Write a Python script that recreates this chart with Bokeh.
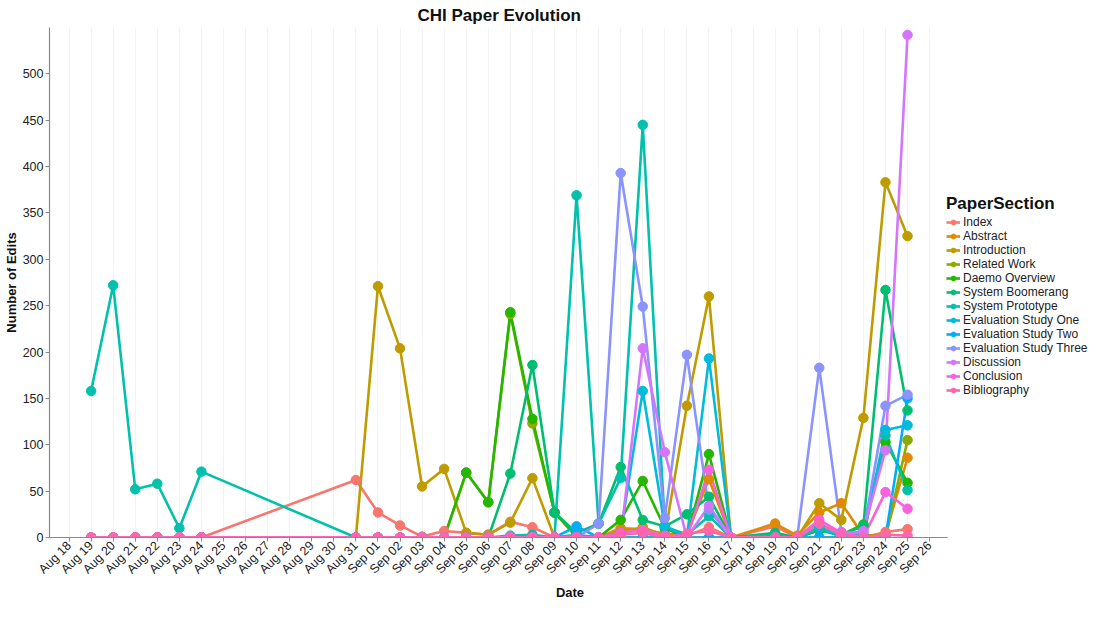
import math
import pandas as pd
from bokeh.plotting import figure
from bokeh.models import (Range1d, FixedTicker, DatetimeTickFormatter, Legend,
                          LegendItem, ColumnDataSource)
from bokeh.embed import file_html
from bokeh.resources import INLINE

# ---------------- data ----------------
dates = ["2015-08-19", "2015-08-20", "2015-08-21", "2015-08-22", "2015-08-23",
         "2015-08-24", "2015-08-31", "2015-09-01", "2015-09-02", "2015-09-03",
         "2015-09-04", "2015-09-05", "2015-09-06", "2015-09-07", "2015-09-08",
         "2015-09-09", "2015-09-10", "2015-09-11", "2015-09-12", "2015-09-13",
         "2015-09-14", "2015-09-15", "2015-09-16", "2015-09-17", "2015-09-19",
         "2015-09-20", "2015-09-21", "2015-09-22", "2015-09-23", "2015-09-24",
         "2015-09-25"]

sections = ["Index", "Abstract", "Introduction", "Related Work", "Daemo Overview",
            "System Boomerang", "System Prototype", "Evaluation Study One",
            "Evaluation Study Two", "Evaluation Study Three", "Discussion",
            "Conclusion", "Bibliography"]

section_colors = ["#F8766D", "#E18A00", "#BE9C00", "#8CAB00", "#24B700", "#00BE70",
                  "#00C1AB", "#00BBDA", "#00ACFC", "#8B93FF", "#D575FE", "#F962DD",
                  "#FF65AC"]

#                 Aug19..Aug24            Aug31 Sep01..                                                       Sep17 Sep19..Sep25
index_edits =    [0, 0, 0, 0, 0, 0,        62,  27, 13, 1, 7, 5, 3, 17, 11, 0, 2, 0, 8, 7, 3, 2, 11, 0,     12, 0, 8, 5, 0, 6, 9]
abstract_edits = [0, 0, 0, 0, 0, 0,        0,   0, 0, 0, 0, 0, 0, 0, 0, 0, 0, 0, 10, 9, 4, 3, 63, 0,      15, 2, 27, 37, 2, 3, 86]
intro_edits =    [0, 0, 0, 0, 0, 0,        0,   271, 204, 55, 74, 5, 3, 16, 64, 0, 0, 0, 5, 11, 2, 142, 260, 0, 3, 0, 37, 19, 129, 383, 325]
related_edits =  [0, 0, 0, 0, 0, 0,        0,   0, 0, 0, 0, 70, 38, 241, 123, 27, 0, 0, 0, 0, 0, 0, 0, 0,  0, 0, 0, 0, 0, 0, 105]
daemo_edits =    [0, 0, 0, 0, 0, 0,        0,   0, 0, 0, 0, 70, 38, 243, 128, 27, 2, 0, 19, 61, 10, 0, 90, 0, 3, 0, 8, 3, 14, 103, 59]
boomerang_edits = [0, 0, 0, 0, 0, 0,       0,   0, 0, 0, 0, 0, 0, 69, 186, 27, 5, 15, 76, 19, 12, 25, 44, 0, 5, 0, 8, 2, 13, 267, 137]
prototype_edits = [158, 272, 52, 58, 10, 71, 0, 0, 0, 0, 0, 0, 0, 2, 3, 0, 369, 15, 64, 445, 12, 3, 23, 0, 2, 0, 10, 2, 3, 110, 51]
eval_one_edits = [0, 0, 0, 0, 0, 0,        0,   0, 0, 0, 0, 0, 0, 0, 0, 0, 3, 0, 5, 158, 12, 0, 193, 0,     0, 0, 12, 0, 0, 116, 121]
eval_two_edits = [0, 0, 0, 0, 0, 0,        0,   0, 0, 0, 0, 0, 0, 0, 0, 0, 12, 0, 0, 0, 0, 0, 0, 0,         0, 0, 0, 0, 0, 0, 150]
eval_three_edits = [0, 0, 0, 0, 0, 0,      0,   0, 0, 0, 0, 0, 0, 0, 0, 0, 0, 15, 393, 249, 21, 197, 30, 0, 0, 0, 183, 6, 5, 142, 154]
discussion_edits = [0, 0, 0, 0, 0, 0,      0,   0, 0, 0, 0, 0, 0, 0, 0, 0, 0, 0, 0, 204, 92, 0, 34, 0,      0, 0, 15, 3, 7, 94, 542]
conclusion_edits = [0, 0, 0, 0, 0, 0,      0,   0, 0, 0, 0, 0, 0, 0, 0, 0, 0, 0, 5, 8, 2, 0, 73, 0,         0, 0, 19, 5, 0, 49, 31]
biblio_edits =   [0, 0, 0, 0, 0, 0,        0,   0, 0, 0, 0, 0, 0, 0, 0, 0, 0, 0, 3, 5, 0, 4, 7, 0,          0, 0, 15, 3, 0, 3, 2]

series_values = [index_edits, abstract_edits, intro_edits, related_edits, daemo_edits,
                 boomerang_edits, prototype_edits, eval_one_edits, eval_two_edits,
                 eval_three_edits, discussion_edits, conclusion_edits, biblio_edits]

tick_dates = pd.date_range("2015-08-18", "2015-09-26", freq="D")
y_ticks = [0, 50, 100, 150, 200, 250, 300, 350, 400, 450, 500]

# ---------------- figure ----------------
FONT = "Liberation Sans"
x = pd.to_datetime(dates)

x_start = pd.Timestamp("2015-08-17 02:45")
x_axis_end = pd.Timestamp("2015-09-26 19:00")
x_view_end = pd.Timestamp("2015-10-03 07:00")   # room on the right for the legend

p = figure(width=1090, height=603, x_axis_type="datetime",
           output_backend="svg", toolbar_location=None,
           x_range=Range1d(x_start, x_view_end),
           y_range=Range1d(0, 550),
           min_border_left=42, min_border_right=0, min_border_top=0, min_border_bottom=0,
           title="CHI Paper Evolution")
p.outline_line_color = None
p.background_fill_color = "white"
p.border_fill_color = "white"

p.title.align = "left"
p.title.offset = 368
p.title.text_font = FONT
p.title.text_font_size = "17px"
p.title.text_font_style = "bold"
p.title.text_color = "#111111"
p.title.standoff = 6

tick_ms = [int((d - pd.Timestamp("1970-01-01")) / pd.Timedelta("1ms")) for d in tick_dates]
p.xaxis.ticker = FixedTicker(ticks=tick_ms)
fmt = "%b %d"
p.xaxis.formatter = DatetimeTickFormatter(milliseconds=fmt, seconds=fmt, minsec=fmt, minutes=fmt,
                                          hourmin=fmt, hours=fmt, days=fmt, months=fmt, years=fmt)
p.xaxis.major_label_orientation = math.pi / 4
p.xaxis.bounds = (x_start, x_axis_end)
p.yaxis.ticker = FixedTicker(ticks=y_ticks)

for ax in (p.xaxis, p.yaxis):
    ax.axis_line_color = "#8a8a8a"
    ax.axis_line_width = 1.2
    ax.major_tick_line_color = "#8a8a8a"
    ax.major_tick_in = 0
    ax.major_tick_out = 4
    ax.minor_tick_line_color = None
    ax.major_label_text_font = FONT
    ax.major_label_text_font_size = "12.5px"
    ax.major_label_text_color = "#222222"
    ax.major_label_standoff = 2
    ax.axis_label_text_font = FONT
    ax.axis_label_text_font_size = "13px"
    ax.axis_label_text_font_style = "bold"
    ax.axis_label_text_color = "#111111"
    ax.axis_label_standoff = 1

p.xaxis.axis_label = "Date"
p.yaxis.axis_label = "Number of Edits"

p.xgrid.grid_line_color = "#f2f2f2"
p.xgrid.grid_line_width = 1
p.ygrid.grid_line_color = None

sources = [ColumnDataSource(dict(date=x, edits=vals)) for vals in series_values]

line_renderers = []
for src, col in zip(sources, section_colors):
    line_renderers.append(p.line("date", "edits", source=src, line_color=col, line_width=2.6))
point_renderers = []
for src, col in zip(sources, section_colors):
    point_renderers.append(p.scatter("date", "edits", source=src, size=9.5,
                                     fill_color=col, line_color=col))

items = [LegendItem(label=name, renderers=[lr, pr])
         for name, lr, pr in zip(sections, line_renderers, point_renderers)]
legend = Legend(items=items, title="PaperSection", location=(897, 140),
                title_text_font=FONT, title_text_font_size="17px", title_text_font_style="bold",
                title_text_color="#111111", title_standoff=1,
                label_text_font=FONT, label_text_font_size="12px", label_text_color="#222222",
                glyph_width=14, glyph_height=12, label_height=12, label_standoff=3,
                spacing=0, padding=2, margin=0, border_line_color=None,
                background_fill_alpha=0)
p.add_layout(legend)

open("out.html", "w").write(file_html(p, INLINE))
